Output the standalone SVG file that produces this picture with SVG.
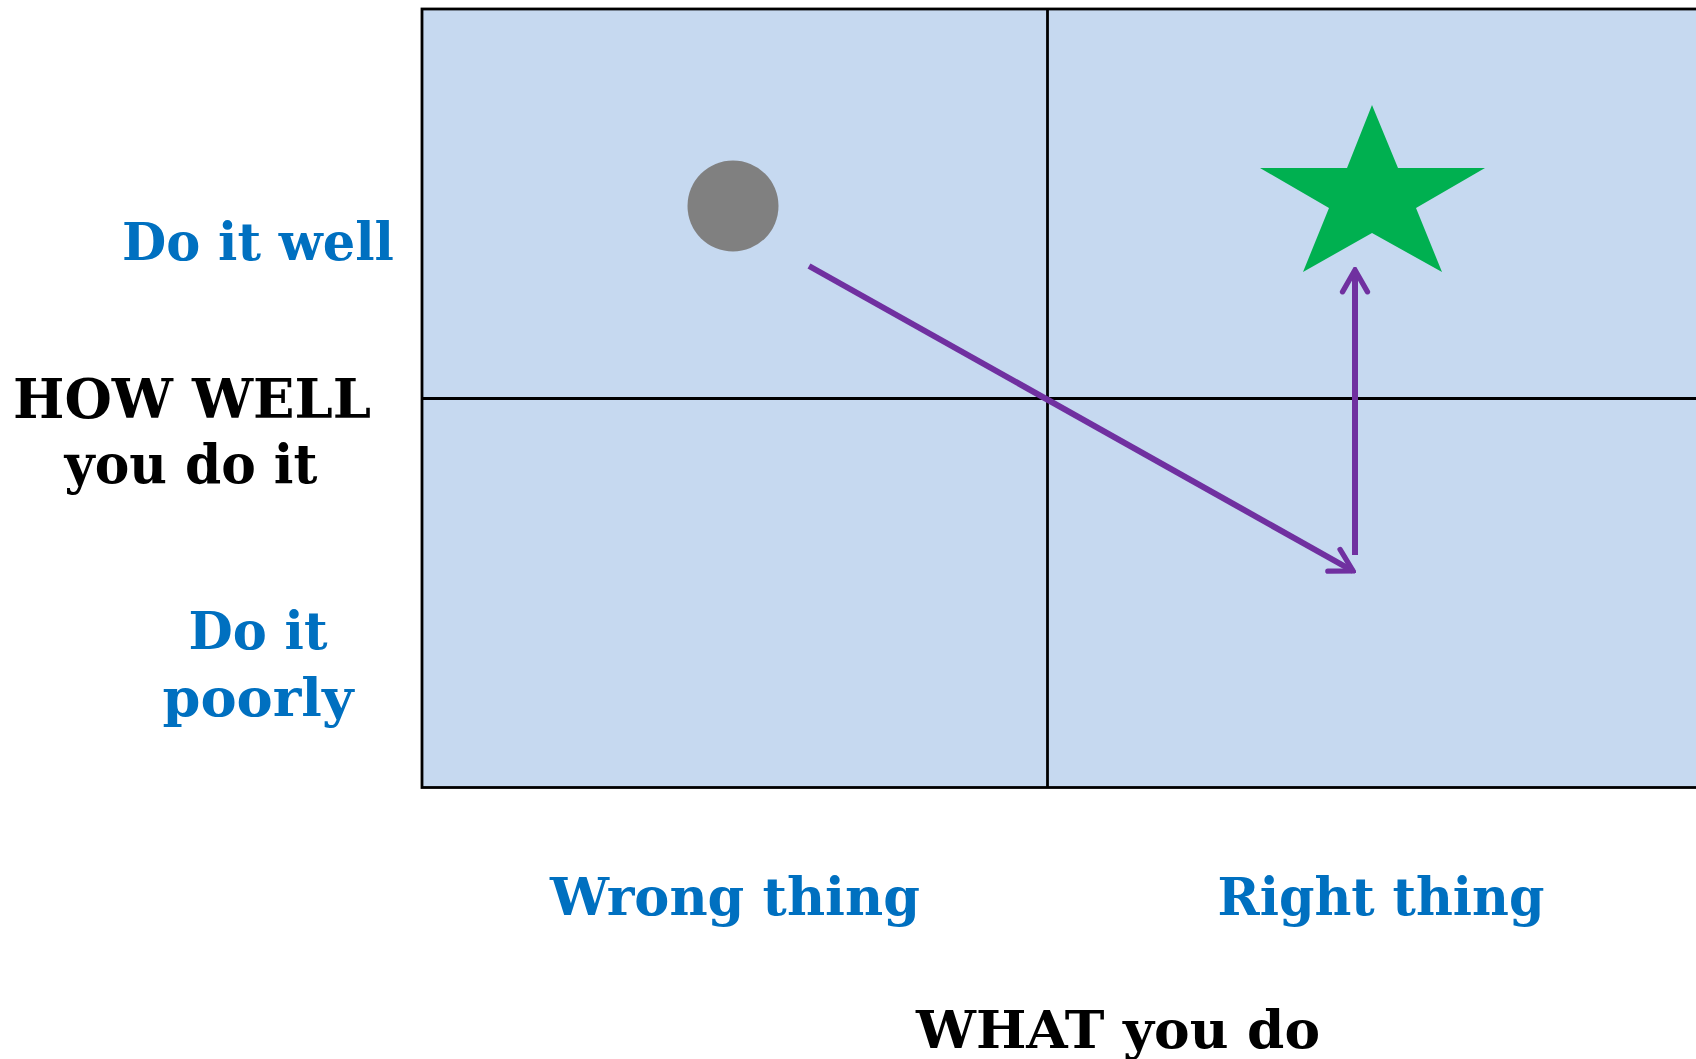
<svg xmlns="http://www.w3.org/2000/svg" width="1696" height="1059" viewBox="0 0 1696 1059">
  <style>
    .lbl { font-family: "DejaVu Serif", "Liberation Serif", serif; font-weight: bold; text-anchor: middle; }
    .blue { fill: #0070C0; }
    .black { fill: #000000; }
    .grid { stroke: #000000; stroke-width: 2.8; }
    .conn { stroke: #7030A0; stroke-width: 6; fill: none; stroke-linecap: butt; }
  </style>
  <defs>
    <marker id="arrow" viewBox="0 0 20 20" refX="18" refY="10" markerWidth="5.2" markerHeight="5.2" markerUnits="strokeWidth" orient="auto">
      <path d="M4,2 L18,10 L4,18" fill="none" stroke="#7030A0" stroke-width="3.4" stroke-linecap="round" stroke-linejoin="miter"/>
    </marker>
  </defs>
  <rect width="1696" height="1059" fill="#FFFFFF"/>

  <g id="matrix">
    <rect x="422" y="9" width="1290" height="778.5" fill="#C6D9F0" class="grid"/>
    <line x1="1047.5" y1="9" x2="1047.5" y2="787.5" class="grid"/>
    <line x1="422" y1="398.5" x2="1712" y2="398.5" class="grid"/>
  </g>

  <g id="circle-node">
    <circle cx="733" cy="206" r="45.5" fill="#808080"/>
  </g>

  <g id="star-node">
    <polygon points="1372,105 1398,168 1485,168 1416,208 1442,272 1372,233 1303,272 1329,208 1260,168 1347,168" fill="#00B050"/>
  </g>

  <g id="connectors">
    <line x1="809" y1="266" x2="1353" y2="571" class="conn" marker-end="url(#arrow)"/>
    <line x1="1355" y1="555" x2="1355" y2="270" class="conn" marker-end="url(#arrow)"/>
  </g>

  <g id="y-labels">
    <text x="258" y="260" class="lbl blue" font-size="52" textLength="272" lengthAdjust="spacingAndGlyphs">Do it well</text>
    <text x="192" y="418" class="lbl black" font-size="54" textLength="358" lengthAdjust="spacingAndGlyphs">HOW WELL</text>
    <text x="191" y="483" class="lbl black" font-size="54" textLength="253" lengthAdjust="spacingAndGlyphs">you do it</text>
    <text x="258" y="649" class="lbl blue" font-size="52" textLength="139" lengthAdjust="spacingAndGlyphs">Do it</text>
    <text x="258" y="716" class="lbl blue" font-size="52" textLength="191" lengthAdjust="spacingAndGlyphs">poorly</text>
  </g>

  <g id="x-labels">
    <text x="735" y="915" class="lbl blue" font-size="52" textLength="370" lengthAdjust="spacingAndGlyphs">Wrong thing</text>
    <text x="1381" y="915" class="lbl blue" font-size="52" textLength="327" lengthAdjust="spacingAndGlyphs">Right thing</text>
    <text x="1118" y="1048" class="lbl black" font-size="53" textLength="404" lengthAdjust="spacingAndGlyphs">WHAT you do</text>
  </g>
</svg>
